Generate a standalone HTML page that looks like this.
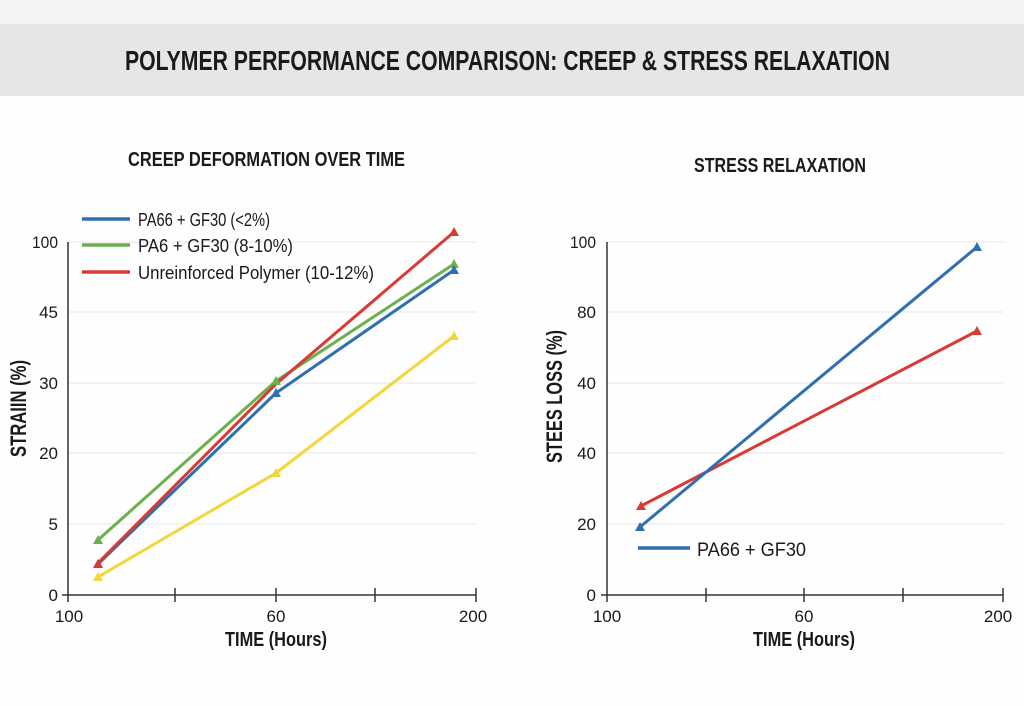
<!DOCTYPE html>
<html><head><meta charset="utf-8"><style>
html,body{margin:0;padding:0;background:#fff;}
svg{display:block;}
text{font-family:"Liberation Sans Narrow","Liberation Sans",sans-serif;fill:#1a1a1a;}
</style></head><body>
<svg width="1024" height="706" viewBox="0 0 1024 706" xmlns="http://www.w3.org/2000/svg">
<rect width="1024" height="706" fill="#fefefe"/>
<rect x="0" y="0" width="1024" height="24" fill="#f3f3f3"/>
<rect x="0" y="24" width="1024" height="72" fill="#e6e6e6"/>
<text x="125" y="70" font-size="28" font-weight="bold" textLength="765" lengthAdjust="spacingAndGlyphs">POLYMER PERFORMANCE COMPARISON: CREEP &amp; STRESS RELAXATION</text>

<text x="128" y="166" font-size="20" font-weight="bold" textLength="277" lengthAdjust="spacingAndGlyphs">CREEP DEFORMATION OVER TIME</text>
<text x="694" y="172" font-size="20" font-weight="bold" textLength="172" lengthAdjust="spacingAndGlyphs">STRESS RELAXATION</text>

<!-- left chart -->
<g stroke="#e6e6e6" stroke-width="1">
<line x1="68" y1="242" x2="476" y2="242"/><line x1="68" y1="312" x2="476" y2="312"/>
<line x1="68" y1="383" x2="476" y2="383"/><line x1="68" y1="453" x2="476" y2="453"/>
<line x1="68" y1="524" x2="476" y2="524"/>
</g>
<g stroke="#333" stroke-width="1.5" fill="none">
<line x1="68" y1="242" x2="68" y2="596"/><line x1="62" y1="595" x2="476" y2="595"/>
<line x1="68" y1="595" x2="68" y2="602"/><line x1="175" y1="588" x2="175" y2="602"/>
<line x1="276" y1="588" x2="276" y2="602"/><line x1="375" y1="588" x2="375" y2="602"/>
<line x1="476" y1="588" x2="476" y2="602"/>
</g>
<g font-size="17" text-anchor="end">
<text x="58" y="248" textLength="26" lengthAdjust="spacingAndGlyphs">100</text><text x="58" y="318">45</text><text x="58" y="389">30</text>
<text x="58" y="459">20</text><text x="58" y="530">5</text><text x="58" y="601">0</text>
</g>
<g font-size="17" text-anchor="middle">
<text x="69" y="622">100</text><text x="276" y="622">60</text><text x="473" y="622">200</text>
</g>
<text x="225" y="646" font-size="20" font-weight="bold" textLength="102" lengthAdjust="spacingAndGlyphs">TIME (Hours)</text>
<text transform="translate(26,457) rotate(-90)" font-size="22" font-weight="bold" textLength="97" lengthAdjust="spacingAndGlyphs">STRAIIN (%)</text>

<g fill="none" stroke-width="3" stroke-linejoin="round">
<polyline points="98,577 276,473 454,336" stroke="#f2d63a"/>
<polyline points="98,540 276,381 454,264" stroke="#6ab04c"/>
<polyline points="98,564 276,393 454,270" stroke="#2f6fb0"/>
<polyline points="98,563 276,384 454,232" stroke="#d83a34"/>
</g>
<g>
<path d="M98,572 l5,9 h-10z" fill="#f2d63a"/><path d="M276,468 l5,9 h-10z" fill="#f2d63a"/><path d="M454,331 l5,9 h-10z" fill="#f2d63a"/>
<path d="M98,535 l5,9 h-10z" fill="#6ab04c"/><path d="M276,376 l5,9 h-10z" fill="#6ab04c"/><path d="M454,259 l5,9 h-10z" fill="#6ab04c"/>
<path d="M98,559 l5,9 h-10z" fill="#2f6fb0"/><path d="M276,388 l5,9 h-10z" fill="#2f6fb0"/><path d="M454,265 l5,9 h-10z" fill="#2f6fb0"/>
<path d="M98,559 l5,9 h-10z" fill="#d83a34"/><path d="M454,227 l5,9 h-10z" fill="#d83a34"/>
</g>
<g stroke-width="3.5">
<line x1="82" y1="219" x2="130" y2="219" stroke="#2f6fb0"/>
<line x1="82" y1="245" x2="130" y2="245" stroke="#6ab04c"/>
<line x1="82" y1="272" x2="130" y2="272" stroke="#d83a34"/>
</g>
<g font-size="18">
<text x="138" y="226" textLength="132" lengthAdjust="spacingAndGlyphs">PA66 + GF30 (&lt;2%)</text>
<text x="138" y="252" textLength="155" lengthAdjust="spacingAndGlyphs">PA6 + GF30 (8-10%)</text>
<text x="138" y="279" textLength="236" lengthAdjust="spacingAndGlyphs">Unreinforced Polymer (10-12%)</text>
</g>

<!-- right chart -->
<g stroke="#e6e6e6" stroke-width="1">
<line x1="607" y1="242" x2="1003" y2="242"/><line x1="607" y1="312" x2="1003" y2="312"/>
<line x1="607" y1="383" x2="1003" y2="383"/><line x1="607" y1="453" x2="1003" y2="453"/>
<line x1="607" y1="524" x2="1003" y2="524"/>
</g>
<g stroke="#333" stroke-width="1.5" fill="none">
<line x1="607" y1="242" x2="607" y2="596"/><line x1="601" y1="595" x2="1003" y2="595"/>
<line x1="607" y1="595" x2="607" y2="602"/><line x1="706" y1="588" x2="706" y2="602"/>
<line x1="804" y1="588" x2="804" y2="602"/><line x1="903" y1="588" x2="903" y2="602"/>
<line x1="1003" y1="588" x2="1003" y2="602"/>
</g>
<g font-size="17" text-anchor="end">
<text x="596" y="248" textLength="26" lengthAdjust="spacingAndGlyphs">100</text><text x="596" y="318">80</text><text x="596" y="389">40</text>
<text x="596" y="459">40</text><text x="596" y="530">20</text><text x="596" y="601">0</text>
</g>
<g font-size="17" text-anchor="middle">
<text x="607" y="622">100</text><text x="804" y="622">60</text><text x="998" y="622">200</text>
</g>
<text x="753" y="646" font-size="20" font-weight="bold" textLength="102" lengthAdjust="spacingAndGlyphs">TIME (Hours)</text>
<text transform="translate(562,463) rotate(-90)" font-size="22" font-weight="bold" textLength="133" lengthAdjust="spacingAndGlyphs">STEES LOSS (%)</text>
<g fill="none" stroke-width="3">
<line x1="641" y1="506" x2="977" y2="331" stroke="#d83a34"/>
<line x1="640" y1="527" x2="977" y2="247" stroke="#2f6fb0"/>
</g>
<path d="M641,501 l5,9 h-10z" fill="#d83a34"/><path d="M977,326 l5,9 h-10z" fill="#d83a34"/>
<path d="M640,522 l5,9 h-10z" fill="#2f6fb0"/><path d="M977,242 l5,9 h-10z" fill="#2f6fb0"/>
<line x1="638" y1="548" x2="690" y2="548" stroke="#2f6fb0" stroke-width="3.5"/>
<text x="697" y="556" font-size="19" textLength="109" lengthAdjust="spacingAndGlyphs">PA66 + GF30</text>
</svg>
</body></html>
